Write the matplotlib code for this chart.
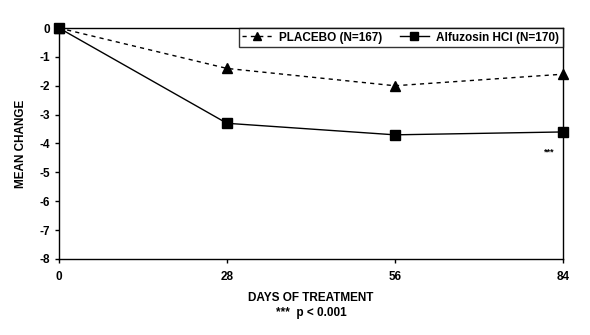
import matplotlib
matplotlib.use("Agg")
import matplotlib.pyplot as plt

days = [0, 28, 56, 84]
placebo = [0, -1.4, -2.0, -1.6]
alfuzosin = [0, -3.3, -3.7, -3.6]
yticks = [0, -1, -2, -3, -4, -5, -6, -7, -8]

plt.rcParams['font.family'] = ['Liberation Sans', 'DejaVu Sans']
plt.rcParams['font.weight'] = 'bold'
plt.rcParams['axes.unicode_minus'] = False

fs = 8.5
fig = plt.figure(figsize=(5.9, 3.35), dpi=100)
ax = fig.add_axes([0.1, 0.2269, 0.854, 0.6895])

ax.plot(days, placebo, color='black', linestyle=(0, (3, 3)), linewidth=1,
        marker='^', markersize=6.5, label='PLACEBO (N=167)', clip_on=False, zorder=3)
ax.plot(days, alfuzosin, color='black', linestyle='-', linewidth=1,
        marker='s', markersize=7, label='Alfuzosin HCl (N=170)', clip_on=False, zorder=3)

ax.set_xlim(0, 84)
ax.set_ylim(-8, 0)
ax.set_xticks(days)
ax.set_yticks(yticks)
ax.tick_params(axis='both', labelsize=fs, direction='out', length=3, width=1)
ax.tick_params(axis='x', pad=6)
for lab in ax.get_xticklabels() + ax.get_yticklabels():
    lab.set_fontweight('bold')
for s in ax.spines.values():
    s.set_linewidth(1)

ax.set_ylabel('MEAN CHANGE', fontsize=fs, fontweight='bold', labelpad=9)
ax.text(0.5, -0.17, 'DAYS OF TREATMENT', transform=ax.transAxes, ha='center',
        va='center', fontsize=fs, fontweight='bold')
ax.text(0.5, -0.235, '***  p < 0.001', transform=ax.transAxes, ha='center',
        va='center', fontsize=fs, fontweight='bold')
ax.text(81.7, -4.3, '***', ha='center', va='center', fontsize=6.5, fontweight='bold')

leg = ax.legend(loc='upper right', ncol=2, frameon=True, fancybox=False,
                borderaxespad=0, edgecolor='black', handlelength=2.5, columnspacing=1.5,
                handletextpad=0.6, borderpad=0.3, markerscale=0.85,
                prop={'weight': 'bold', 'size': fs})
leg.get_frame().set_linewidth(1)

fig.savefig('out.png', dpi=100)
